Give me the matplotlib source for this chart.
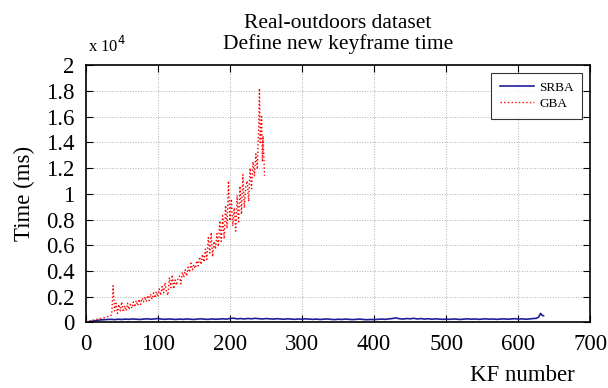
import numpy as np
import matplotlib.pyplot as plt
from matplotlib.ticker import FuncFormatter

plt.rcParams["font.family"] = ["Liberation Serif", "DejaVu Serif"]

# GBA time per keyframe (ms)
gba_kf = [0, 2, 4, 6, 8, 10, 12, 14, 16, 18, 20, 22, 24, 26, 28, 30, 32, 34, 36, 38,
          40, 42, 44, 46, 48, 50, 52, 54, 56, 58, 60, 62, 64, 66, 68, 70, 72, 74, 76, 78,
          80, 82, 84, 86, 88, 90, 92, 94, 96, 98, 100, 102, 104, 106, 108, 110, 112, 114, 116, 118,
          120, 122, 124, 126, 128, 130, 132, 134, 136, 138, 140, 142, 144, 146, 148, 150, 152, 154, 156, 158,
          160, 162, 164, 166, 168, 170, 172, 174, 176, 178, 180, 182, 184, 186, 188, 190, 192, 194, 196, 198,
          200, 202, 204, 206, 208, 210, 212, 214, 216, 218, 220, 222, 224, 226, 228, 230, 232, 234, 236, 238,
          240, 241, 242, 244, 245, 246, 247, 248]
gba_ms = [0, 50, 100, 120, 150, 180, 200, 220, 250, 270, 300, 320, 350, 370, 400, 450, 480, 500, 600, 2850,
          900, 1500, 700, 1400, 900, 1600, 800, 1300, 900, 1500, 1000, 1400, 1100, 1600, 1200, 1700, 1300, 1800, 1400, 1900,
          1600, 2000, 1600, 2100, 1700, 2200, 1800, 2300, 1900, 2400, 2000, 2600, 2100, 2800, 2300, 3100, 2400, 2100, 3500, 2700,
          3700, 2600, 3300, 2900, 3400, 3600, 3000, 3900, 3500, 4100, 3600, 4300, 3900, 4600, 4100, 4500, 4200, 4800, 4400, 5100,
          4500, 5300, 4700, 5700, 4900, 6600, 5400, 7000, 5100, 6300, 5700, 6900, 5900, 7900, 6300, 8300, 6500, 9100, 7300, 11000,
          7900, 9600, 7500, 8900, 7100, 9900, 7700, 10600, 8400, 11500, 8900, 10600, 11000, 9400, 12000, 10400, 12500, 11400, 13100, 11900,
          15500, 18200, 14000, 16000, 12500, 14500, 13000, 11400]

# SRBA time per keyframe (ms)
srba_kf = [0, 5, 10, 15, 20, 25, 30, 35, 40, 45, 50, 55, 60, 65, 70, 75, 80, 85, 90, 95,
           100, 105, 110, 115, 120, 125, 130, 135, 140, 145, 150, 155, 160, 165, 170, 175, 180, 185, 190, 195,
           200, 205, 210, 215, 220, 225, 230, 235, 240, 245, 250, 255, 260, 265, 270, 275, 280, 285, 290, 295,
           300, 305, 310, 315, 320, 325, 330, 335, 340, 345, 350, 355, 360, 365, 370, 375, 380, 385, 390, 395,
           400, 405, 410, 415, 420, 425, 430, 435, 440, 445, 450, 455, 460, 465, 470, 475, 480, 485, 490, 495,
           500, 505, 510, 515, 520, 525, 530, 535, 540, 545, 550, 555, 560, 565, 570, 575, 580, 585, 590, 595,
           600, 605, 610, 615, 620, 625, 628, 631, 633, 635]
srba_ms = [0, 60, 110, 150, 190, 210, 230, 240, 220, 250, 230, 260, 240, 270, 250, 230, 260, 280, 250, 270,
           300, 260, 240, 270, 250, 230, 260, 240, 270, 250, 230, 260, 280, 250, 240, 270, 250, 260, 280, 260,
           300, 330, 280, 300, 270, 310, 280, 320, 290, 270, 300, 280, 260, 290, 270, 250, 280, 260, 240, 270,
           250, 280, 260, 240, 260, 230, 250, 270, 240, 220, 250, 230, 260, 240, 220, 240, 260, 230, 210, 230,
           220, 240, 260, 240, 270, 300, 350, 290, 260, 300, 280, 320, 270, 300, 260, 290, 250, 280, 260, 240,
           260, 240, 270, 250, 230, 260, 280, 250, 270, 240, 260, 280, 250, 270, 240, 260, 280, 250, 270, 290,
           260, 280, 250, 270, 300, 320, 400, 700, 560, 520]

fig = plt.figure(figsize=(6.08, 3.88), dpi=100)
ax = fig.add_axes([0.141, 0.169, 0.83, 0.663])

ax.plot(srba_kf, srba_ms, color="#1f1f99", lw=1.2, label="SRBA")
ax.plot(gba_kf, gba_ms, color="#ff0000", lw=1.0, ls=":", label="GBA")

ax.set_xlim(0, 700)
ax.set_ylim(0, 20000)
ax.set_xticks(np.arange(0, 701, 100))
ax.set_yticks(np.arange(0, 20001, 2000))
ax.yaxis.set_major_formatter(FuncFormatter(lambda v, p: f"{v / 1e4:g}"))
ax.tick_params(direction="in", top=True, right=True, length=5, labelsize=16.5, width=0.8, pad=8)
ax.grid(True, ls=":", color="#b0b0b0", lw=0.7)
for s in ax.spines.values():
    s.set_linewidth(1.2)

ax.set_title("Real-outdoors dataset\nDefine new keyframe time", fontsize=15.5, linespacing=1.05, pad=12)
ax.set_ylabel("Time (ms)", fontsize=16.5, labelpad=8)
fig.text(0.946, 0.005, "KF number", fontsize=16.5, ha="right", va="bottom")
fig.text(0.145, 0.855, "x 10$^4$", fontsize=12, ha="left", va="bottom")

leg = ax.legend(loc="upper right", fontsize=9.5, frameon=True, fancybox=False,
                edgecolor="black", borderaxespad=0.6, handlelength=2.6,
                labelspacing=0.3, borderpad=0.65, handletextpad=0.4)
leg.get_frame().set_linewidth(0.8)

fig.savefig("out.png", dpi=100)
